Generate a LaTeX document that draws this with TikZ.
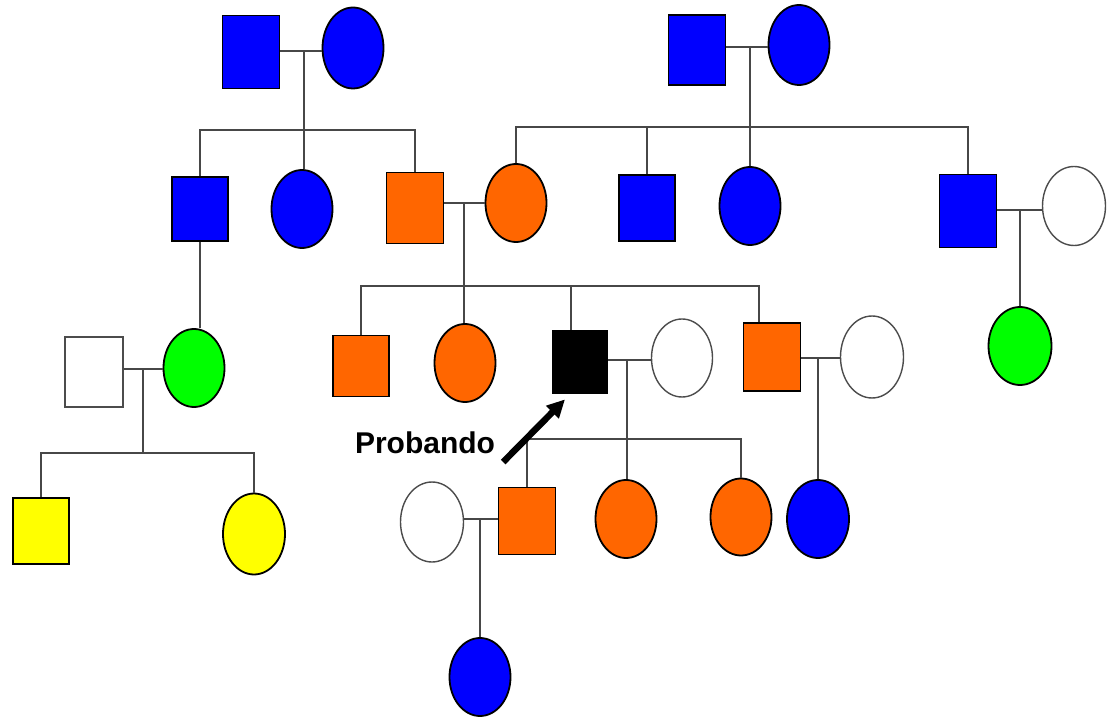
\documentclass[tikz,border=0pt]{standalone}
\usepackage{xcolor}
\usepackage{tikz}
\usepackage{fontspec}
\setsansfont{Liberation Sans}
\usetikzlibrary{positioning,shapes,arrows.meta,calc}

\definecolor{pblue}{RGB}{0,0,255}
\definecolor{porange}{RGB}{255,102,0}
\definecolor{pgreen}{RGB}{0,255,0}
\definecolor{pyellow}{RGB}{255,255,0}

\begin{document}
\begin{tikzpicture}[x=1pt, y=-1pt,
    male/.style={draw=black, line width=1.8pt, rectangle, inner sep=0pt, minimum width=56pt, minimum height=66pt},
    female/.style={draw=black, line width=1.8pt, ellipse, inner sep=0pt, minimum width=61pt, minimum height=78pt},
    unaff/.style={draw=black!70, line width=1.4pt, fill=white},
    link/.style={draw=black!72, line width=2.8pt},
    pointer/.style={line width=6.5pt, -{Triangle[length=18pt, width=17pt]}}]
    \useasboundingbox (0,0) rectangle (1109,719);

    % generation I
    \node[male, fill=pblue, minimum width=57pt, minimum height=73pt] (i1) at (251,52) {};
    \node[female, fill=pblue, minimum height=81pt] (i2) at (353,48) {};
    \node[male, fill=pblue, minimum width=57pt, minimum height=70pt] (i3) at (697,50) {};
    \node[female, fill=pblue, minimum height=80pt] (i4) at (799,45) {};

    % generation II
    \node[male, fill=pblue, minimum height=64pt] (ii1) at (200,209) {};
    \node[female, fill=pblue] (ii2) at (302,209) {};
    \node[male, fill=porange, minimum width=57pt, minimum height=71pt] (ii3) at (415,208) {};
    \node[female, fill=porange] (ii4) at (516,203) {};
    \node[male, fill=pblue] (ii5) at (647,208) {};
    \node[female, fill=pblue] (ii6) at (750,206) {};
    \node[male, fill=pblue, minimum width=57pt, minimum height=73pt] (ii7) at (968,211) {};
    \node[female, unaff, minimum width=63pt, minimum height=79pt] (ii8) at (1074,206) {};

    % generation III
    \node[male, unaff, minimum width=58pt, minimum height=70pt] (iii1) at (94,372) {};
    \node[female, fill=pgreen] (iii2) at (194,368) {};
    \node[male, fill=porange, minimum height=61pt] (iii3) at (361,366) {};
    \node[female, fill=porange] (iii4) at (465,363) {};
    \node[male, fill=black, minimum width=55pt, minimum height=63pt] (iii5) at (580,362) {};
    \node[female, unaff] (iii6) at (682,358) {};
    \node[male, fill=porange, minimum width=57pt, minimum height=68pt] (iii7) at (772,357) {};
    \node[female, unaff, minimum width=63pt, minimum height=82pt] (iii8) at (872,357) {};
    \node[female, fill=pgreen, minimum width=63pt] (iii9) at (1020,346) {};

    % generation IV
    \node[male, fill=pyellow] (iv1) at (41,531) {};
    \node[female, fill=pyellow, minimum width=62pt, minimum height=81pt] (iv2) at (254,534) {};
    \node[female, unaff, minimum width=63pt, minimum height=80pt] (iv3) at (432,522) {};
    \node[male, fill=porange, minimum width=57pt, minimum height=67pt] (iv4) at (527,521) {};
    \node[female, fill=porange] (iv5) at (626,519) {};
    \node[female, fill=porange, minimum height=77pt] (iv6) at (741,517) {};
    \node[female, fill=pblue, minimum width=62pt] (iv7) at (818,519) {};

    % generation V
    \node[female, fill=pblue] (v1) at (480,677) {};

    % unions and sibship lines
    \coordinate (c1) at (304,51);   \coordinate (s1) at (304,130);
    \coordinate (c2) at (750,47);   \coordinate (s2) at (750,127);
    \coordinate (c3) at (464,203);  \coordinate (s3) at (464,286);
    \coordinate (c4) at (1020,210);
    \coordinate (c5) at (143,369);  \coordinate (s5) at (143,453);
    \coordinate (c6) at (627,360);  \coordinate (s6) at (627,439);
    \coordinate (c7) at (818,358);
    \coordinate (c8) at (480,519);
    \coordinate (k5) at ([xshift=-9pt]iii5.north);
    \coordinate (k7) at ([xshift=-13pt]iii7.north);

    \draw[link] (i1.east |- c1) -- (i2.west |- c1);
    \draw[link] (c1) -- (c1 |- ii2.north);
    \draw[link] (ii1.north) |- (s1) -| (ii3.north);

    \draw[link] (i3.east |- c2) -- (i4.west |- c2);
    \draw[link] (c2) -- (c2 |- ii6.north);
    \draw[link] (ii4.north) |- (s2) -| (ii7.north);
    \draw[link] (ii5.north) -- (ii5.north |- s2);

    \draw[link] (ii3.east |- c3) -- (ii4.west |- c3);
    \draw[link] (c3) -- (c3 |- iii4.north);
    \draw[link] (iii3.north) |- (s3) -| (k7);
    \draw[link] (k5) -- (k5 |- s3);

    \draw[link] (ii7.east |- c4) -- (ii8.west |- c4);
    \draw[link] (c4) -- (c4 |- iii9.north);

    \draw[link] (ii1.south) -- (ii1.south |- iii2.north);
    \draw[link] (iii1.east |- c5) -- (iii2.west |- c5);
    \draw[link] (c5) -- (s5);
    \draw[link] (iv1.north) |- (s5) -| (iv2.north);

    \draw[link] (iii5.east |- c6) -- (iii6.west |- c6);
    \draw[link] (c6) -- (c6 |- iv5.north);
    \draw[link] (iv4.north) |- (s6) -| (iv6.north);

    \draw[link] (iii7.east |- c7) -- (iii8.west |- c7);
    \draw[link] (c7) -- (c7 |- iv7.north);

    \draw[link] (iv3.east |- c8) -- (iv4.west |- c8);
    \draw[link] (c8) -- (c8 |- v1.north);

    % index case
    \node[font=\sffamily\bfseries\fontsize{30}{34}\selectfont, inner sep=0pt, anchor=base] (lbl) at (425,453) {Probando};
    \draw[pointer] ([xshift=8pt,yshift=-9pt]lbl.base east) -- ([xshift=-15pt,yshift=-5pt]iii5.south);
\end{tikzpicture}
\end{document}
